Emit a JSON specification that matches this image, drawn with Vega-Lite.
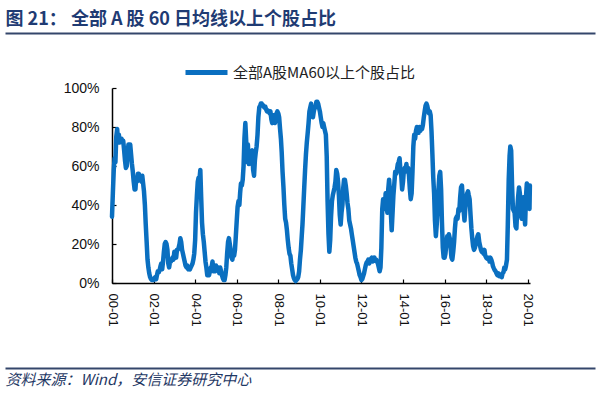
{
  "$schema": "https://vega.github.io/schema/vega-lite/v6.json",
  "background": "white",
  "width": 418,
  "height": 195,
  "autosize": {"type": "none"},
  "padding": {"left": 112, "top": 88, "right": 70, "bottom": 112},
  "resolve": {"scale": {"x": "independent"}, "axis": {"x": "independent"}},
  "layer": [
    {
      "data": {"values": [
        {"date":"2000-01-01","pct":34},{"date":"2000-01-16","pct":46},{"date":"2000-02-01","pct":58},{"date":"2000-02-16","pct":64},{"date":"2000-03-01","pct":62},{"date":"2000-03-16","pct":75},{"date":"2000-04-01","pct":79},{"date":"2000-04-16","pct":72},{"date":"2000-05-01","pct":76},{"date":"2000-05-16","pct":72},{"date":"2000-06-01","pct":74},{"date":"2000-06-16","pct":74},{"date":"2000-07-01","pct":73},{"date":"2000-07-16","pct":73},{"date":"2000-08-01","pct":68},{"date":"2000-08-16","pct":63},{"date":"2000-09-01","pct":59},{"date":"2000-09-16","pct":60},{"date":"2000-10-01","pct":66},{"date":"2000-10-16","pct":71},{"date":"2000-11-01","pct":71},{"date":"2000-11-16","pct":71},{"date":"2000-12-01","pct":66},{"date":"2000-12-16","pct":61},
        {"date":"2001-01-01","pct":57},{"date":"2001-01-16","pct":52},{"date":"2001-02-01","pct":48},{"date":"2001-02-16","pct":48},{"date":"2001-03-01","pct":54},{"date":"2001-03-16","pct":52},{"date":"2001-04-01","pct":56},{"date":"2001-04-16","pct":56},{"date":"2001-05-01","pct":54},{"date":"2001-05-16","pct":53},{"date":"2001-06-01","pct":52},{"date":"2001-06-16","pct":55},{"date":"2001-07-01","pct":51},{"date":"2001-07-16","pct":47},{"date":"2001-08-01","pct":40},{"date":"2001-08-16","pct":30},{"date":"2001-09-01","pct":21},{"date":"2001-09-16","pct":12},{"date":"2001-10-01","pct":8},{"date":"2001-10-16","pct":5},{"date":"2001-11-01","pct":3},{"date":"2001-11-16","pct":2},{"date":"2001-12-01","pct":1.5},{"date":"2001-12-16","pct":1.5},
        {"date":"2002-01-01","pct":1.5},{"date":"2002-01-16","pct":2.5},{"date":"2002-02-01","pct":3},{"date":"2002-02-16","pct":2},{"date":"2002-03-01","pct":4},{"date":"2002-03-16","pct":6},{"date":"2002-04-01","pct":5.5},{"date":"2002-04-16","pct":6.5},{"date":"2002-05-01","pct":8.5},{"date":"2002-05-16","pct":10},{"date":"2002-06-01","pct":7},{"date":"2002-06-16","pct":11},{"date":"2002-07-01","pct":16},{"date":"2002-07-16","pct":20},{"date":"2002-08-01","pct":21},{"date":"2002-08-16","pct":20},{"date":"2002-09-01","pct":17},{"date":"2002-09-16","pct":10},{"date":"2002-10-01","pct":8},{"date":"2002-10-16","pct":11},{"date":"2002-11-01","pct":11},{"date":"2002-11-16","pct":12},{"date":"2002-12-01","pct":13},{"date":"2002-12-16","pct":12},
        {"date":"2003-01-01","pct":16},{"date":"2003-01-16","pct":15},{"date":"2003-02-01","pct":13},{"date":"2003-02-16","pct":17},{"date":"2003-03-01","pct":17},{"date":"2003-03-16","pct":18},{"date":"2003-04-01","pct":20},{"date":"2003-04-16","pct":23},{"date":"2003-05-01","pct":21},{"date":"2003-05-16","pct":17},{"date":"2003-06-01","pct":15},{"date":"2003-06-16","pct":13},{"date":"2003-07-01","pct":11},{"date":"2003-07-16","pct":9},{"date":"2003-08-01","pct":8},{"date":"2003-08-16","pct":9},{"date":"2003-09-01","pct":7},{"date":"2003-09-16","pct":8},{"date":"2003-10-01","pct":7},{"date":"2003-10-16","pct":8},{"date":"2003-11-01","pct":9},{"date":"2003-11-16","pct":10},{"date":"2003-12-01","pct":12},{"date":"2003-12-16","pct":15},
        {"date":"2004-01-01","pct":22},{"date":"2004-01-16","pct":36},{"date":"2004-02-01","pct":45},{"date":"2004-02-16","pct":52},{"date":"2004-03-01","pct":54},{"date":"2004-03-16","pct":53},{"date":"2004-04-01","pct":58},{"date":"2004-04-16","pct":44},{"date":"2004-05-01","pct":31},{"date":"2004-05-16","pct":25},{"date":"2004-06-01","pct":21},{"date":"2004-06-16","pct":16},{"date":"2004-07-01","pct":11},{"date":"2004-07-16","pct":8},{"date":"2004-08-01","pct":4},{"date":"2004-08-16","pct":6},{"date":"2004-09-01","pct":4},{"date":"2004-09-16","pct":6},{"date":"2004-10-01","pct":8},{"date":"2004-10-16","pct":8},{"date":"2004-11-01","pct":11},{"date":"2004-11-16","pct":6},{"date":"2004-12-01","pct":8},{"date":"2004-12-16","pct":6},
        {"date":"2005-01-01","pct":9},{"date":"2005-01-16","pct":7},{"date":"2005-02-01","pct":8},{"date":"2005-02-16","pct":8},{"date":"2005-03-01","pct":5},{"date":"2005-03-16","pct":8},{"date":"2005-04-01","pct":6},{"date":"2005-04-16","pct":4},{"date":"2005-05-01","pct":2.5},{"date":"2005-05-16","pct":1.5},{"date":"2005-06-01","pct":1.5},{"date":"2005-06-16","pct":4},{"date":"2005-07-01","pct":8},{"date":"2005-07-16","pct":15},{"date":"2005-08-01","pct":21},{"date":"2005-08-16","pct":23},{"date":"2005-09-01","pct":20},{"date":"2005-09-16","pct":17},{"date":"2005-10-01","pct":13},{"date":"2005-10-16","pct":12},{"date":"2005-11-01","pct":15},{"date":"2005-11-16","pct":14},{"date":"2005-12-01","pct":17},{"date":"2005-12-16","pct":24},
        {"date":"2006-01-01","pct":32},{"date":"2006-01-16","pct":39},{"date":"2006-02-01","pct":42},{"date":"2006-02-16","pct":40},{"date":"2006-03-01","pct":46},{"date":"2006-03-16","pct":51},{"date":"2006-04-01","pct":50},{"date":"2006-04-16","pct":53},{"date":"2006-05-01","pct":60},{"date":"2006-05-16","pct":74},{"date":"2006-06-01","pct":82},{"date":"2006-06-16","pct":73},{"date":"2006-07-01","pct":62},{"date":"2006-07-16","pct":71},{"date":"2006-08-01","pct":61},{"date":"2006-08-16","pct":64},{"date":"2006-09-01","pct":65},{"date":"2006-09-16","pct":66},{"date":"2006-10-01","pct":68},{"date":"2006-10-16","pct":58},{"date":"2006-11-01","pct":55},{"date":"2006-11-16","pct":63},{"date":"2006-12-01","pct":67},{"date":"2006-12-16","pct":70},
        {"date":"2007-01-01","pct":76},{"date":"2007-01-16","pct":85},{"date":"2007-02-01","pct":90},{"date":"2007-02-16","pct":91},{"date":"2007-03-01","pct":92},{"date":"2007-03-16","pct":92},{"date":"2007-04-01","pct":91},{"date":"2007-04-16","pct":91},{"date":"2007-05-01","pct":90},{"date":"2007-05-16","pct":90.5},{"date":"2007-06-01","pct":89},{"date":"2007-06-16","pct":88},{"date":"2007-07-01","pct":88.5},{"date":"2007-07-16","pct":88},{"date":"2007-08-01","pct":87},{"date":"2007-08-16","pct":88},{"date":"2007-09-01","pct":84},{"date":"2007-09-16","pct":82},{"date":"2007-10-01","pct":86},{"date":"2007-10-16","pct":86},{"date":"2007-11-01","pct":82},{"date":"2007-11-16","pct":83},{"date":"2007-12-01","pct":87},{"date":"2007-12-16","pct":88},
        {"date":"2008-01-01","pct":87},{"date":"2008-01-16","pct":85},{"date":"2008-02-01","pct":79},{"date":"2008-02-16","pct":74},{"date":"2008-03-01","pct":67},{"date":"2008-03-16","pct":57},{"date":"2008-04-01","pct":49},{"date":"2008-04-16","pct":40},{"date":"2008-05-01","pct":33},{"date":"2008-05-16","pct":31},{"date":"2008-06-01","pct":27},{"date":"2008-06-16","pct":22},{"date":"2008-07-01","pct":18},{"date":"2008-07-16","pct":15},{"date":"2008-08-01","pct":14},{"date":"2008-08-16","pct":10},{"date":"2008-09-01","pct":7},{"date":"2008-09-16","pct":4},{"date":"2008-10-01","pct":2.5},{"date":"2008-10-16","pct":1.5},{"date":"2008-11-01","pct":1},{"date":"2008-11-16","pct":1.5},{"date":"2008-12-01","pct":2},{"date":"2008-12-16","pct":3},
        {"date":"2009-01-01","pct":6},{"date":"2009-01-16","pct":12},{"date":"2009-02-01","pct":17},{"date":"2009-02-16","pct":24},{"date":"2009-03-01","pct":30},{"date":"2009-03-16","pct":39},{"date":"2009-04-01","pct":49},{"date":"2009-04-16","pct":58},{"date":"2009-05-01","pct":66},{"date":"2009-05-16","pct":72},{"date":"2009-06-01","pct":77},{"date":"2009-06-16","pct":82},{"date":"2009-07-01","pct":88},{"date":"2009-07-16","pct":90},{"date":"2009-08-01","pct":92},{"date":"2009-08-16","pct":87},{"date":"2009-09-01","pct":85},{"date":"2009-09-16","pct":88},{"date":"2009-10-01","pct":90},{"date":"2009-10-16","pct":90},{"date":"2009-11-01","pct":93},{"date":"2009-11-16","pct":93},{"date":"2009-12-01","pct":92},{"date":"2009-12-16","pct":90},
        {"date":"2010-01-01","pct":88},{"date":"2010-01-16","pct":85},{"date":"2010-02-01","pct":82},{"date":"2010-02-16","pct":80},{"date":"2010-03-01","pct":82},{"date":"2010-03-16","pct":80},{"date":"2010-04-01","pct":78},{"date":"2010-04-16","pct":76},{"date":"2010-05-01","pct":65},{"date":"2010-05-16","pct":42},{"date":"2010-06-01","pct":25},{"date":"2010-06-16","pct":16},{"date":"2010-07-01","pct":22},{"date":"2010-07-16","pct":34},{"date":"2010-08-01","pct":42},{"date":"2010-08-16","pct":45},{"date":"2010-09-01","pct":47},{"date":"2010-09-16","pct":49},{"date":"2010-10-01","pct":52},{"date":"2010-10-16","pct":58},{"date":"2010-11-01","pct":56},{"date":"2010-11-16","pct":52},{"date":"2010-12-01","pct":45},{"date":"2010-12-16","pct":35},
        {"date":"2011-01-01","pct":30},{"date":"2011-01-16","pct":36},{"date":"2011-02-01","pct":40},{"date":"2011-02-16","pct":49},{"date":"2011-03-01","pct":53},{"date":"2011-03-16","pct":53},{"date":"2011-04-01","pct":50},{"date":"2011-04-16","pct":46},{"date":"2011-05-01","pct":41},{"date":"2011-05-16","pct":38},{"date":"2011-06-01","pct":32},{"date":"2011-06-16","pct":30},{"date":"2011-07-01","pct":28},{"date":"2011-07-16","pct":25},{"date":"2011-08-01","pct":22},{"date":"2011-08-16","pct":19},{"date":"2011-09-01","pct":16},{"date":"2011-09-16","pct":13},{"date":"2011-10-01","pct":11},{"date":"2011-10-16","pct":10},{"date":"2011-11-01","pct":8},{"date":"2011-11-16","pct":6},{"date":"2011-12-01","pct":4},{"date":"2011-12-16","pct":3},
        {"date":"2012-01-01","pct":1.5},{"date":"2012-01-16","pct":2},{"date":"2012-02-01","pct":3.5},{"date":"2012-02-16","pct":5},{"date":"2012-03-01","pct":7},{"date":"2012-03-16","pct":9},{"date":"2012-04-01","pct":10.5},{"date":"2012-04-16","pct":11},{"date":"2012-05-01","pct":12},{"date":"2012-05-16","pct":10},{"date":"2012-06-01","pct":11},{"date":"2012-06-16","pct":12.5},{"date":"2012-07-01","pct":13},{"date":"2012-07-16","pct":11},{"date":"2012-08-01","pct":12},{"date":"2012-08-16","pct":13},{"date":"2012-09-01","pct":11.5},{"date":"2012-09-16","pct":12},{"date":"2012-10-01","pct":11},{"date":"2012-10-16","pct":10},{"date":"2012-11-01","pct":8},{"date":"2012-11-16","pct":6},{"date":"2012-12-01","pct":8},{"date":"2012-12-16","pct":18},
        {"date":"2013-01-01","pct":38},{"date":"2013-01-16","pct":43},{"date":"2013-02-01","pct":40},{"date":"2013-02-16","pct":38},{"date":"2013-03-01","pct":46},{"date":"2013-03-16","pct":42},{"date":"2013-04-01","pct":36},{"date":"2013-04-16","pct":48},{"date":"2013-05-01","pct":53},{"date":"2013-05-16","pct":47},{"date":"2013-06-01","pct":36},{"date":"2013-06-16","pct":27},{"date":"2013-07-01","pct":36},{"date":"2013-07-16","pct":45},{"date":"2013-08-01","pct":51},{"date":"2013-08-16","pct":57},{"date":"2013-09-01","pct":56},{"date":"2013-09-16","pct":58},{"date":"2013-10-01","pct":61},{"date":"2013-10-16","pct":62},{"date":"2013-11-01","pct":64},{"date":"2013-11-16","pct":58},{"date":"2013-12-01","pct":55},{"date":"2013-12-16","pct":48},
        {"date":"2014-01-01","pct":52},{"date":"2014-01-16","pct":58},{"date":"2014-02-01","pct":59},{"date":"2014-02-16","pct":58},{"date":"2014-03-01","pct":61},{"date":"2014-03-16","pct":57},{"date":"2014-04-01","pct":59},{"date":"2014-04-16","pct":55},{"date":"2014-05-01","pct":48},{"date":"2014-05-16","pct":43},{"date":"2014-06-01","pct":46},{"date":"2014-06-16","pct":57},{"date":"2014-07-01","pct":70},{"date":"2014-07-16","pct":76},{"date":"2014-08-01","pct":74},{"date":"2014-08-16","pct":78},{"date":"2014-09-01","pct":80},{"date":"2014-09-16","pct":77},{"date":"2014-10-01","pct":77},{"date":"2014-10-16","pct":80},{"date":"2014-11-01","pct":78},{"date":"2014-11-16","pct":80},{"date":"2014-12-01","pct":79},{"date":"2014-12-16","pct":81},
        {"date":"2015-01-01","pct":85},{"date":"2015-01-16","pct":88},{"date":"2015-02-01","pct":91},{"date":"2015-02-16","pct":92},{"date":"2015-03-01","pct":91},{"date":"2015-03-16","pct":89},{"date":"2015-04-01","pct":87},{"date":"2015-04-16","pct":88},{"date":"2015-05-01","pct":86},{"date":"2015-05-16","pct":78},{"date":"2015-06-01","pct":66},{"date":"2015-06-16","pct":54},{"date":"2015-07-01","pct":46},{"date":"2015-07-16","pct":32},{"date":"2015-08-01","pct":24},{"date":"2015-08-16","pct":30},{"date":"2015-09-01","pct":38},{"date":"2015-09-16","pct":48},{"date":"2015-10-01","pct":55},{"date":"2015-10-16","pct":57},{"date":"2015-11-01","pct":48},{"date":"2015-11-16","pct":31},{"date":"2015-12-01","pct":18},{"date":"2015-12-16","pct":13},
        {"date":"2016-01-01","pct":13},{"date":"2016-01-16","pct":15},{"date":"2016-02-01","pct":20},{"date":"2016-02-16","pct":24},{"date":"2016-03-01","pct":22},{"date":"2016-03-16","pct":25},{"date":"2016-04-01","pct":23},{"date":"2016-04-16","pct":18},{"date":"2016-05-01","pct":13},{"date":"2016-05-16","pct":12},{"date":"2016-06-01","pct":16},{"date":"2016-06-16","pct":21},{"date":"2016-07-01","pct":28},{"date":"2016-07-16","pct":33},{"date":"2016-08-01","pct":34},{"date":"2016-08-16","pct":33},{"date":"2016-09-01","pct":38},{"date":"2016-09-16","pct":37},{"date":"2016-10-01","pct":44},{"date":"2016-10-16","pct":49},{"date":"2016-11-01","pct":50},{"date":"2016-11-16","pct":43},{"date":"2016-12-01","pct":37},{"date":"2016-12-16","pct":32},
        {"date":"2017-01-01","pct":39},{"date":"2017-01-16","pct":43},{"date":"2017-02-01","pct":46},{"date":"2017-02-16","pct":47},{"date":"2017-03-01","pct":45},{"date":"2017-03-16","pct":43},{"date":"2017-04-01","pct":35},{"date":"2017-04-16","pct":28},{"date":"2017-05-01","pct":23},{"date":"2017-05-16","pct":19},{"date":"2017-06-01","pct":17},{"date":"2017-06-16","pct":18},{"date":"2017-07-01","pct":20},{"date":"2017-07-16","pct":22},{"date":"2017-08-01","pct":24},{"date":"2017-08-16","pct":25},{"date":"2017-09-01","pct":21},{"date":"2017-09-16","pct":19},{"date":"2017-10-01","pct":17},{"date":"2017-10-16","pct":16},{"date":"2017-11-01","pct":17},{"date":"2017-11-16","pct":15},{"date":"2017-12-01","pct":17},{"date":"2017-12-16","pct":14},
        {"date":"2018-01-01","pct":13},{"date":"2018-01-16","pct":12.5},{"date":"2018-02-01","pct":13},{"date":"2018-02-16","pct":13},{"date":"2018-03-01","pct":11},{"date":"2018-03-16","pct":13},{"date":"2018-04-01","pct":12},{"date":"2018-04-16","pct":10.5},{"date":"2018-05-01","pct":8.5},{"date":"2018-05-16","pct":7.5},{"date":"2018-06-01","pct":6.5},{"date":"2018-06-16","pct":6},{"date":"2018-07-01","pct":5},{"date":"2018-07-16","pct":4},{"date":"2018-08-01","pct":5},{"date":"2018-08-16","pct":3.5},{"date":"2018-09-01","pct":3.5},{"date":"2018-09-16","pct":4},{"date":"2018-10-01","pct":3},{"date":"2018-10-16","pct":5},{"date":"2018-11-01","pct":5.5},{"date":"2018-11-16","pct":8},{"date":"2018-12-01","pct":7},{"date":"2018-12-16","pct":9},
        {"date":"2019-01-01","pct":12},{"date":"2019-01-16","pct":30},{"date":"2019-02-01","pct":53},{"date":"2019-02-16","pct":65},{"date":"2019-03-01","pct":70},{"date":"2019-03-16","pct":68},{"date":"2019-04-01","pct":50},{"date":"2019-04-16","pct":38},{"date":"2019-05-01","pct":37},{"date":"2019-05-16","pct":36},{"date":"2019-06-01","pct":29},{"date":"2019-06-16","pct":28},{"date":"2019-07-01","pct":38},{"date":"2019-07-16","pct":44},{"date":"2019-08-01","pct":49},{"date":"2019-08-16","pct":46},{"date":"2019-09-01","pct":36},{"date":"2019-09-16","pct":33},{"date":"2019-10-01","pct":41},{"date":"2019-10-16","pct":44},{"date":"2019-11-01","pct":36},{"date":"2019-11-16","pct":30},{"date":"2019-12-01","pct":44},{"date":"2019-12-16","pct":51},
        {"date":"2020-01-01","pct":50},{"date":"2020-01-16","pct":45},{"date":"2020-02-01","pct":38},{"date":"2020-02-08","pct":50}
      ]},
      "mark": {"type": "line", "strokeWidth": 4.5, "strokeJoin": "round", "strokeCap": "round"},
      "encoding": {
        "x": {
          "field": "date", "type": "temporal",
          "scale": {"type": "utc", "domain": ["2000-01-01", "2020-02-10"]},
          "axis": {
            "values": [
              {"year": 2000, "month": 1, "date": 1, "utc": true},{"year": 2002, "month": 1, "date": 1, "utc": true},{"year": 2004, "month": 1, "date": 1, "utc": true},{"year": 2006, "month": 1, "date": 1, "utc": true},{"year": 2008, "month": 1, "date": 1, "utc": true},{"year": 2010, "month": 1, "date": 1, "utc": true},{"year": 2012, "month": 1, "date": 1, "utc": true},{"year": 2014, "month": 1, "date": 1, "utc": true},{"year": 2016, "month": 1, "date": 1, "utc": true},{"year": 2018, "month": 1, "date": 1, "utc": true},{"year": 2020, "month": 1, "date": 1, "utc": true}
            ],
            "labelExpr": "utcFormat(datum.value, '%y-%m')",
            "labelAngle": 90,
            "labelAlign": "left",
            "labelBaseline": "middle",
            "labelFont": "Liberation Sans",
            "labelFontSize": 13,
            "labelColor": "#111111",
            "labelPadding": 14,
            "labelFlush": false,
            "labelOverlap": false,
            "tickSize": -4,
            "tickColor": "#000000",
            "tickWidth": 1.2,
            "domainColor": "#000000",
            "domainWidth": 1.5,
            "grid": false,
            "title": null
          }
        },
        "y": {
          "field": "pct", "type": "quantitative",
          "scale": {"domain": [0, 100]},
          "axis": {
            "values": [0, 20, 40, 60, 80, 100],
            "labelExpr": "datum.value + '%'",
            "labelFont": "Liberation Sans",
            "labelFontSize": 14,
            "labelColor": "#111111",
            "labelPadding": 17,
            "tickSize": -4,
            "tickColor": "#000000",
            "tickWidth": 1.2,
            "domainColor": "#000000",
            "domainWidth": 1.5,
            "grid": false,
            "title": null
          }
        },
        "color": {
          "datum": "全部A股MA60以上个股占比",
          "type": "nominal",
          "scale": {"range": ["#0A6FC0"]},
          "legend": {
            "orient": "none",
            "legendX": 71,
            "legendY": -39,
            "title": null,
            "direction": "horizontal",
            "symbolType": "stroke",
            "symbolSize": 1764,
            "symbolStrokeWidth": 5,
            "labelFont": "Noto Sans CJK SC",
            "labelFontSize": 15,
            "labelColor": "#222222",
            "labelOffset": 3,
            "labelLimit": 400,
            "padding": 0
          }
        }
      }
    },
    {
      "data": {"values": []},
      "mark": {"type": "point", "opacity": 0},
      "encoding": {
        "x": {
          "field": "r", "type": "quantitative",
          "scale": {"domain": [0, 1], "range": [-107, 483]},
          "axis": {
            "orient": "top", "offset": 55,
            "domain": true, "domainColor": "#34466B", "domainWidth": 2,
            "ticks": false, "labels": false, "grid": false,
            "title": "图 21： 全部 A 股 60 日均线以上个股占比",
            "titleAnchor": "start", "titleAlign": "left", "titlePadding": 5,
            "titleFont": "Noto Sans CJK SC", "titleFontSize": 18, "titleFontWeight": "bold",
            "titleColor": "#1F3B73"
          }
        }
      }
    },
    {
      "data": {"values": []},
      "mark": {"type": "point", "opacity": 0},
      "encoding": {
        "x": {
          "field": "r", "type": "quantitative",
          "scale": {"domain": [0, 1], "range": [-107, 483]},
          "axis": {
            "orient": "bottom", "offset": 85,
            "domain": true, "domainColor": "#34466B", "domainWidth": 2,
            "ticks": false, "labels": false, "grid": false,
            "title": "资料来源：Wind，安信证券研究中心",
            "titleAnchor": "start", "titleAlign": "left", "titlePadding": 4,
            "titleFont": "Noto Sans CJK SC", "titleFontSize": 15, "titleFontWeight": "normal", "titleFontStyle": "italic",
            "titleColor": "#1F3864"
          }
        }
      }
    }
  ],
  "config": {"view": {"stroke": null}}
}
